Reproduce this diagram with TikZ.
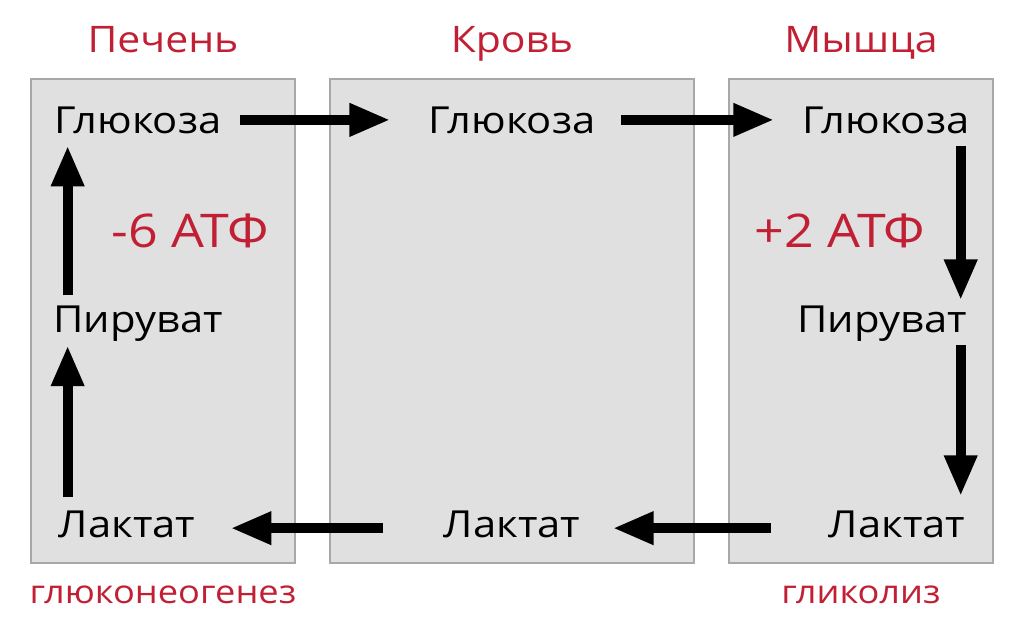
\documentclass[tikz,border=0pt]{standalone}
\usepackage{fontspec}
\setmainfont[FakeStretch=1.12]{Open Sans}
\usetikzlibrary{arrows.meta}

\definecolor{panelfill}{RGB}{224,224,224}
\definecolor{paneledge}{RGB}{168,168,168}
\definecolor{atfred}{RGB}{193,32,52}

\tikzset{
  panel/.style={fill=panelfill, draw=paneledge, line width=1.2pt},
  word/.style={font=\fontsize{26.5}{30}\selectfont, inner sep=0pt, anchor=base},
  head/.style={word, text=atfred, font=\fontsize{26}{30}\selectfont},
  note/.style={word, text=atfred, font=\fontsize{23}{28}\selectfont},
  atf/.style={font=\fontsize{33}{36}\selectfont, inner sep=0pt, anchor=base, text=atfred},
  flow/.style={line width=7pt, -{Triangle[length=29pt,width=22pt]}},
}

\begin{document}
\begin{tikzpicture}[x=0.025cm,y=-0.025cm] % cycle
	\useasboundingbox (0,0) rectangle (1024,621);

	\filldraw[panel] (31,79) rectangle (295,563);
	\filldraw[panel] (330,79) rectangle (694,563);
	\filldraw[panel] (729,79) rectangle (993,563);

	\node[head] (tliver) at (163,52) {Печень};
	\node[head] (tblood) at (512,52) {Кровь};
	\node[head] (tmuscle) at (861,52) {Мышца};

	% liver
	\node[word] (lglu) at (138,133) {Глюкоза};
	\node[word] (lpyr) at (138,332) {Пируват};
	\node[word] (llac) at (127,537) {Лактат};
	\node[atf] (lminus) at (190,247) {-6 АТФ};

	% blood
	\node[word] (bglu) at (512,133) {Глюкоза};
	\node[word] (blac) at (512,537) {Лактат};

	% muscle
	\node[word] (mglu) at (886,133) {Глюкоза};
	\node[word] (mpyr) at (882,332) {Пируват};
	\node[word] (mlac) at (897,537) {Лактат};
	\node[atf] (mplus) at (840,247) {+2 АТФ};

	\node[note] (gng) at (163,603) {глюконеогенез};
	\node[note] (glyc) at (861,603) {гликолиз};

	\draw[flow, shorten <=13pt, shorten >=27pt] (lglu.east) -- (bglu.west);
	\draw[flow, shorten <=18pt, shorten >=20pt] (bglu.east) -- (mglu.west);
	\draw[flow, shorten <=8.5pt, shorten >=3.5pt] ([xshift=-6.5pt]mglu.south east) -- ([xshift=-6.5pt]mglu.south east |- mpyr.north);
	\draw[flow, shorten <=3pt, shorten >=10pt] ([xshift=-6.5pt]mglu.south east |- mpyr.south) -- ([xshift=-6.5pt]mglu.south east |- mlac.north);
	\draw[flow, shorten <=41pt, shorten >=23pt] ([yshift=-3pt]mlac.west) -- ([yshift=-3pt]blac.east);
	\draw[flow, shorten <=43pt, shorten >=25pt] ([yshift=-3pt]blac.west) -- ([yshift=-3pt]llac.east);
	\draw[flow, shorten <=9pt, shorten >=3pt] ([xshift=6.5pt]llac.north west) -- ([xshift=6.5pt]llac.north west |- lpyr.south);
	\draw[flow, shorten <=7pt, shorten >=8.5pt] ([xshift=6.5pt]llac.north west |- lpyr.north) -- ([xshift=6.5pt]llac.north west |- lglu.south);
\end{tikzpicture}
\end{document}
